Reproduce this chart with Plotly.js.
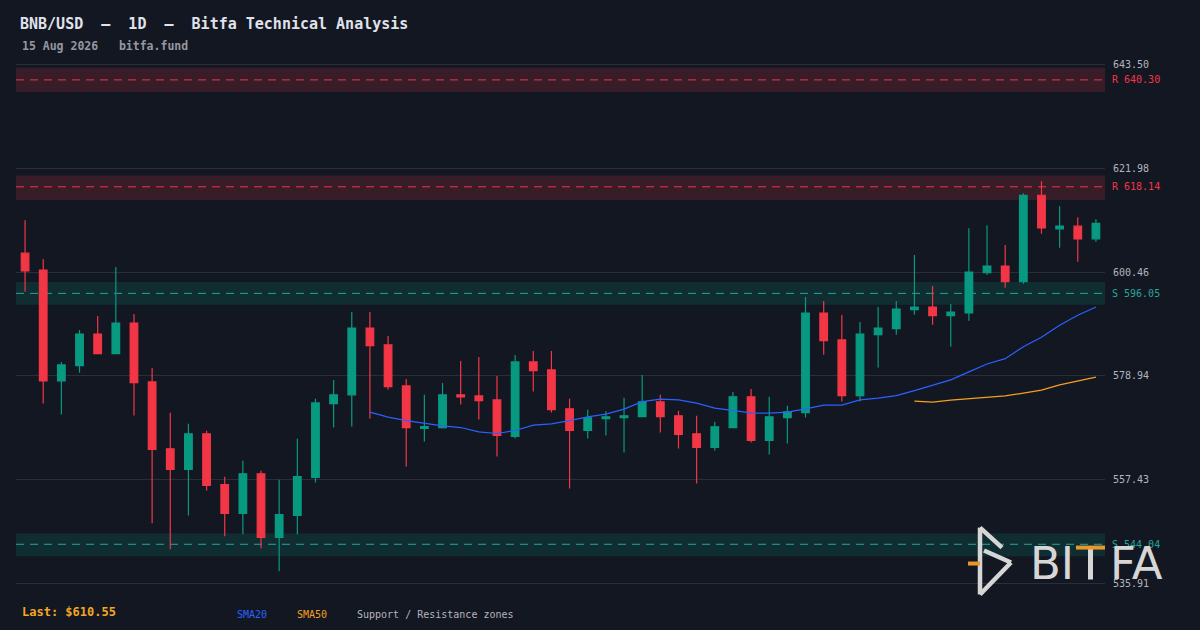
<!DOCTYPE html>
<html><head><meta charset="utf-8">
<script src="https://cdn.plot.ly/plotly-3.0.1.min.js"></script>
<style>html,body{margin:0;padding:0;background:#131722;}#chart{width:1200px;height:630px;}</style>
</head><body><div id="chart"></div>
<script>
// ---- data ----
const openP  = [604.39,600.87,577.90,581.07,587.63,583.56,589.91,577.70,563.84,559.55,566.94,556.39,550.45,558.66,545.48,550.03,557.90,573.21,575.01,588.87,585.36,576.87,568.04,568.24,575.01,574.80,573.97,566.38,581.84,580.18,572.11,567.62,570.10,570.31,570.52,573.56,570.66,566.94,564.11,568.24,574.60,565.56,570.31,571.35,591.98,586.39,574.87,587.49,588.73,592.66,593.22,591.42,591.98,600.32,601.70,598.46,616.39,609.42,609.98,607.35];
const highP  = [611.22,603.15,581.84,588.46,591.36,601.50,591.77,580.60,571.28,569.01,567.56,558.05,561.35,559.28,557.42,565.90,574.18,578.11,592.18,592.18,587.22,578.32,575.01,577.49,582.05,582.87,578.94,583.29,584.11,584.11,574.18,571.90,571.64,574.39,579.15,575.01,571.70,570.66,569.42,575.63,576.25,574.60,572.73,595.29,594.46,591.56,590.11,593.22,594.46,603.98,597.56,593.84,609.57,610.19,606.05,616.81,619.29,614.12,611.84,611.43];
const lowP   = [596.39,573.21,570.93,579.62,583.56,583.56,570.73,548.38,543.00,550.03,555.21,545.69,546.10,543.21,538.45,546.10,556.86,568.24,568.45,570.10,576.10,560.18,565.35,568.04,573.00,569.90,562.24,565.97,575.69,571.35,555.62,565.97,566.59,563.07,570.52,567.21,563.90,556.66,563.49,568.24,565.14,562.66,564.93,570.31,583.35,573.62,573.62,580.66,587.49,591.63,589.56,585.00,590.39,599.90,597.21,598.04,608.39,605.49,602.59,606.73];
const closeP = [600.73,577.90,581.22,587.63,583.56,589.91,577.55,563.69,559.55,566.94,556.24,550.45,558.66,545.48,550.18,558.05,573.35,575.01,588.87,585.21,576.73,568.24,568.45,575.01,574.60,573.83,566.59,581.84,580.04,571.97,567.62,570.25,570.46,570.66,573.56,570.52,566.80,564.11,568.39,574.60,565.56,570.46,571.49,591.98,586.25,574.87,587.63,588.87,592.81,593.22,591.42,592.18,600.46,601.70,598.46,616.39,609.63,609.98,607.35,610.55];

const sma20Start = 19;
const sma20 = [571.43,570.39,569.69,569.15,568.59,568.24,567.35,567.00,567.62,568.74,569.01,569.69,570.46,571.01,572.05,573.62,574.12,573.97,573.29,572.26,571.70,571.28,571.22,571.43,572.11,572.88,572.88,573.97,574.33,574.86,575.90,577.08,578.11,579.77,581.42,582.52,585.00,586.95,589.43,591.50,593.22];
const sma50Start = 49;
const sma50 = [573.71,573.50,573.91,574.24,574.53,574.80,575.36,575.98,577.08,577.91,578.67];

const zoneType  = ['R','R','S','S'];
const zoneLevel = [640.30,618.14,596.05,544.04];
const zoneLow   = [637.77,615.42,593.70,541.55];
const zoneHigh  = [642.82,620.47,598.39,546.25];

const tickVals = [643.50,621.98,600.46,578.94,557.43,535.91];

const titleText = 'BNB/USD  \u2014  1D  \u2014  Bitfa Technical Analysis';
const subText = '15 Aug 2026   bitfa.fund';

// ---- layout helpers ----
const W=1200,H=630,ML=16,MR=95,MT=62.5,MB=44.5;
const px = x => (x-ML)/(W-ML-MR);
const py = y => (H-MB-y)/(H-MT-MB);

const idx = openP.map((_,i)=>i);
const MONO = 'DejaVu Sans Mono';
const UP='#089981', DN='#f23645', RC='#f23645', SC='#26a69a';

const traces = [
  {type:'candlestick', x:idx, open:openP, high:highP, low:lowP, close:closeP,
   increasing:{line:{color:UP,width:1.2},fillcolor:UP},
   decreasing:{line:{color:DN,width:1.2},fillcolor:DN},
   whiskerwidth:0, hoverinfo:'skip'},
  {type:'scatter', mode:'lines', x:sma20.map((_,i)=>i+sma20Start), y:sma20,
   line:{color:'#2962ff',width:1.2}, hoverinfo:'skip'},
  {type:'scatter', mode:'lines', x:sma50.map((_,i)=>i+sma50Start), y:sma50,
   line:{color:'#f5a020',width:1.2}, hoverinfo:'skip'}
];

const shapes = [];
const annotations = [];
zoneLevel.forEach((lv,i)=>{
  const c = zoneType[i]==='R' ? RC : SC;
  const fill = zoneType[i]==='R' ? 'rgba(242,54,69,0.17)' : 'rgba(8,153,129,0.17)';
  shapes.push({type:'rect', xref:'paper', yref:'y', x0:0, x1:1, y0:zoneLow[i], y1:zoneHigh[i],
    fillcolor:fill, line:{width:0}, layer:'below'});
  shapes.push({type:'line', xref:'paper', yref:'y', x0:0, x1:1, y0:lv, y1:lv,
    line:{color:c, width:1, dash:'8px,6px'}, layer:'below'});
  annotations.push({xref:'paper', yref:'y', x:1, y:lv, xanchor:'left', yanchor:'middle', xshift:5,
    text: zoneType[i]+' '+lv.toFixed(2), showarrow:false, font:{family:MONO,size:10,color:c}});
});

// watermark logo
const G='#d6d6d6', OR='#e8972b';
function seg(x0,y0,x1,y1,color,w){
  shapes.push({type:'line', xref:'paper', yref:'paper', x0:px(x0), y0:py(y0), x1:px(x1), y1:py(y1),
    line:{color:color,width:w}, layer:'above'});
}
seg(980,528,980,595,G,4.5);
seg(980,528,1002,548,G,4.5);
seg(984,551,1011,563,G,4.5);
seg(1011,563,980,595,G,4.5);
seg(968,564,980,564,OR,4);
seg(1090.5,549,1090.5,580,G,5);
seg(1076,548,1105,548,OR,4);

annotations.push({xref:'paper', yref:'paper', x:px(1028), y:py(564), xanchor:'left', yanchor:'middle',
  text:'BI', showarrow:false, font:{family:'DejaVu Sans', size:45, color:G}});
annotations.push({xref:'paper', yref:'paper', x:px(1108), y:py(564), xanchor:'left', yanchor:'middle',
  text:'FA', showarrow:false, font:{family:'DejaVu Sans', size:45, color:G}});

// subtitle + footer legend
annotations.push({xref:'paper', yref:'paper', x:px(20), y:py(45), xanchor:'left', yanchor:'middle',
  text:subText, showarrow:false, font:{family:MONO,size:11.5,color:'#9598a1',weight:'bold'}});
annotations.push({xref:'paper', yref:'paper', x:px(20), y:py(613), xanchor:'left', yanchor:'middle',
  text:'Last: $'+closeP[closeP.length-1].toFixed(2), showarrow:false, font:{family:MONO,size:12,color:'#f5a623',weight:'bold'}});
annotations.push({xref:'paper', yref:'paper', x:px(235), y:py(615), xanchor:'left', yanchor:'middle',
  text:'SMA20', showarrow:false, font:{family:MONO,size:10,color:'#2962ff'}});
annotations.push({xref:'paper', yref:'paper', x:px(295), y:py(615), xanchor:'left', yanchor:'middle',
  text:'SMA50', showarrow:false, font:{family:MONO,size:10,color:'#f5a020'}});
annotations.push({xref:'paper', yref:'paper', x:px(355), y:py(615), xanchor:'left', yanchor:'middle',
  text:'Support / Resistance zones', showarrow:false, font:{family:MONO,size:10,color:'#b2b5be'}});

const layout = {
  width:W, height:H,
  paper_bgcolor:'#131722', plot_bgcolor:'#131722',
  margin:{l:ML,r:MR,t:MT,b:MB},
  showlegend:false,
  boxgap:0.4,
  title:{text:titleText, xref:'container', yref:'container', x:20/W, xanchor:'left', y:1-24/H, yanchor:'middle',
    font:{family:MONO,size:15,color:'#e0e3eb',weight:'bold'}},
  xaxis:{range:[-0.5,59.5], visible:false, rangeslider:{visible:false}, fixedrange:true},
  yaxis:{range:[535.6,643.8], side:'right', tickvals:tickVals, ticktext:tickVals.map(v=>v.toFixed(2)),
    showgrid:true, gridcolor:'#2a2e39', gridwidth:1, zeroline:false, showline:false,
    ticks:'outside', ticklen:5, tickcolor:'rgba(0,0,0,0)',
    tickfont:{family:MONO,size:10,color:'#b2b5be'}, fixedrange:true},
  shapes:shapes, annotations:annotations
};
Plotly.newPlot('chart', traces, layout, {staticPlot:true, displayModeBar:false});
</script></body></html>
